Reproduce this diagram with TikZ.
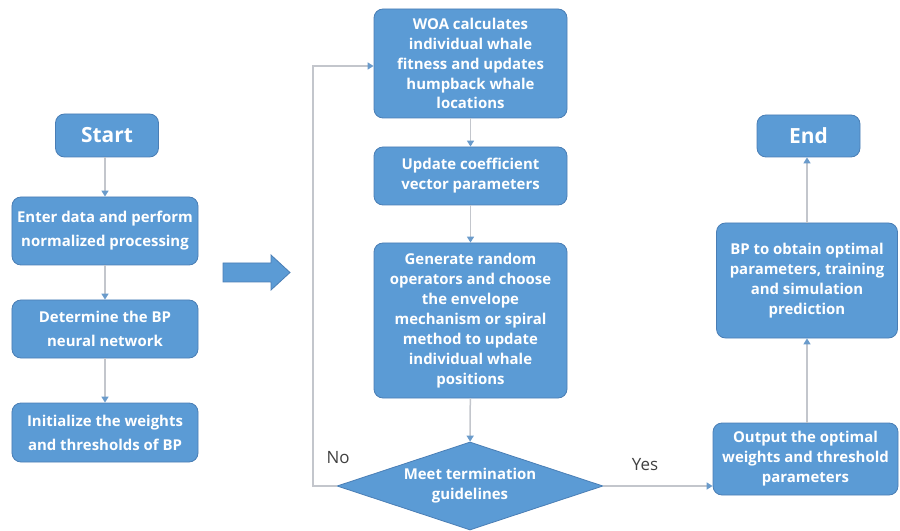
\documentclass[tikz,border=0pt]{standalone}
\usepackage{fontspec}
\setmainfont{Open Sans}
\usetikzlibrary{shapes.geometric,arrows.meta}
\definecolor{boxblue}{HTML}{5B9BD5}
\definecolor{boxedge}{HTML}{4A7EB5}
\definecolor{linegray}{HTML}{C3C6CC}
\definecolor{tipblue}{HTML}{6A9BCB}
\definecolor{labelgray}{HTML}{404040}
\tikzset{
  box/.style={draw=boxedge, line width=0.8bp, fill=boxblue, rounded corners=9bp, text=white,
    font=\bfseries\fontsize{15}{20}\selectfont, align=center, inner sep=0pt},
  bigbox/.style={box, font=\bfseries\fontsize{21}{24}\selectfont},
  leftbox/.style={box, font=\bfseries\fontsize{15}{24}\selectfont},
  decision/.style={diamond, shape aspect=3, draw=boxedge, line width=0.8bp, fill=boxblue, text=white,
    font=\bfseries\fontsize{15}{20}\selectfont, align=center, inner sep=0pt},
  conn/.style={draw=linegray, line width=1.5bp, -{Triangle[width=7bp,length=6bp,color=tipblue]}},
  lbl/.style={text=labelgray, font=\fontsize{17}{20}\selectfont, inner sep=0pt}
}
\begin{document}
\begin{tikzpicture}[x=1bp,y=-1bp]
\useasboundingbox (0,0) rectangle (900,531);
% left column
\node[bigbox, minimum width=103bp, minimum height=43bp] (start) at (107,135.5) {Start};
\node[leftbox, minimum width=186bp, minimum height=68bp] (enter) at (105,231) {Enter data and perform\\normalized processing};
\node[leftbox, minimum width=186bp, minimum height=58bp] (det) at (105,329) {Determine the BP\\neural network};
\node[leftbox, minimum width=186bp, minimum height=59bp] (init) at (105,432.5) {Initialize the weights\\and thresholds of BP};
\draw[conn] (start.south -| enter.north) -- (enter.north);
\draw[conn] (enter) -- (det);
\draw[conn] (det) -- (init);
% big arrow
\draw[draw=boxedge, line width=0.8bp, fill=boxblue] (223,263) -- (271,263) -- (271,255) -- (290,272.5) -- (271,290) -- (271,282) -- (223,282) -- cycle;
% middle column
\node[box, minimum width=193bp, minimum height=109bp] (woa) at (470.5,63.5) {WOA calculates\\individual whale\\fitness and updates\\humpback whale\\locations};
\node[box, minimum width=193bp, minimum height=58bp] (coef) at (470.5,176) {Update coefficient\\vector parameters};
\node[box, minimum width=193bp, minimum height=155bp] (gen) at (470.5,320.5) {Generate random\\operators and choose\\the envelope\\mechanism or spiral\\method to update\\individual whale\\positions};
\node[decision, minimum width=266bp, minimum height=88bp] (dec) at (470,486) {Meet termination\\guidelines};
\draw[conn] (woa) -- (coef);
\draw[conn] (coef) -- (gen);
\draw[conn] (gen) -- (dec);
\coordinate (fbtop) at (313,66);
\draw[conn] (dec.west) -| (fbtop) -- (woa.west |- fbtop);
\node[lbl] (no) at (338,458) {No};
% right column
\node[box, minimum width=185bp, minimum height=72bp] (out) at (805.5,459) {Output the optimal\\weights and threshold\\parameters};
\node[box, minimum width=181bp, minimum height=115bp] (bp) at (807,280.5) {BP to obtain optimal\\parameters, training\\and simulation\\prediction};
\node[bigbox, minimum width=103bp, minimum height=42bp] (end) at (808.5,136) {End};
\draw[conn] (dec.east) -- (out.west |- dec.east);
\node[lbl] (yes) at (645,465) {Yes};
\draw[conn] (out.north -| 807,0) -- (bp.south);
\draw[conn] (bp.north) -- (bp.north |- end.south);
\end{tikzpicture}
\end{document}
